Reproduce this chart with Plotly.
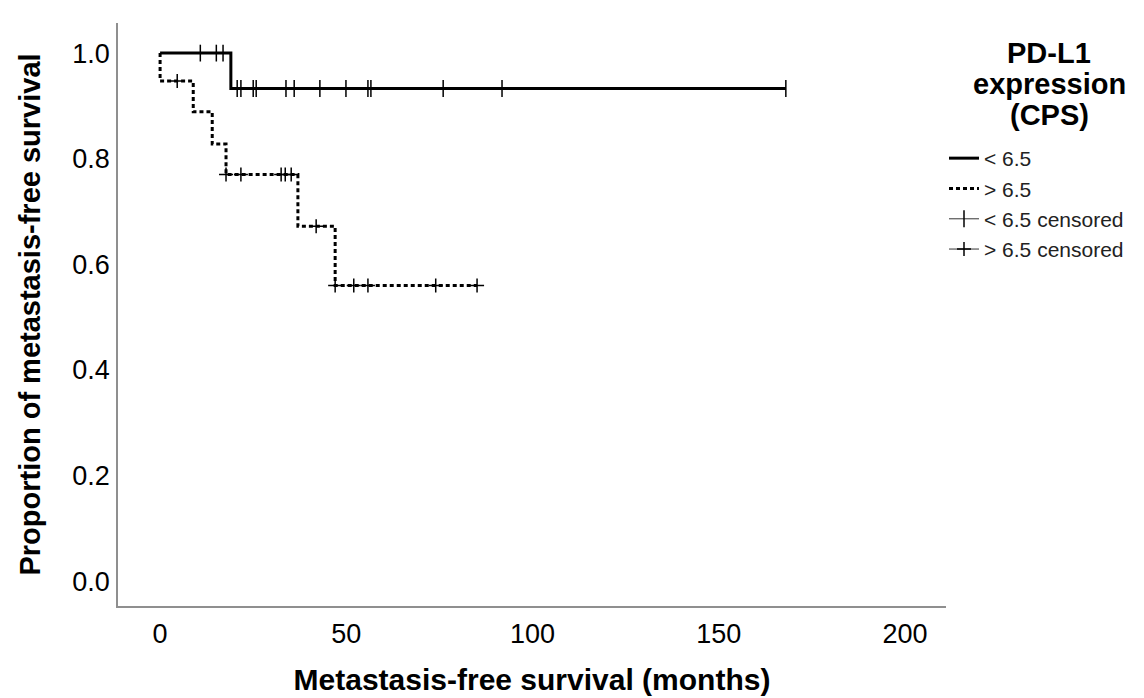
import plotly.graph_objects as go

# ---- data (months, proportion) ----
# PD-L1 CPS < 6.5
low_step_t = [0.0, 19.0, 168.0]
low_step_s = [1.0, 0.933, 0.933]
low_cens_t = [10.8, 15.1, 16.9, 20.7, 21.7, 25.0, 25.8, 33.8, 36.0, 42.9,
              49.9, 55.8, 56.6, 76.0, 91.8, 168.0]
low_cens_s = [1.0, 1.0, 1.0, 0.933, 0.933, 0.933, 0.933, 0.933, 0.933, 0.933,
              0.933, 0.933, 0.933, 0.933, 0.933, 0.933]

# PD-L1 CPS > 6.5
high_step_t = [0.0, 0.0, 8.9, 14.0, 17.7, 37.0, 47.0, 85.1]
high_step_s = [1.0, 0.947, 0.889, 0.828, 0.770, 0.672, 0.560, 0.560]
high_cens_t = [4.6, 17.7, 21.7, 32.5, 33.6, 35.2, 41.9, 47.0, 52.0, 55.8, 74.0, 85.1]
high_cens_s = [0.947, 0.770, 0.770, 0.770, 0.770, 0.770, 0.672, 0.560, 0.560,
               0.560, 0.560, 0.560]

x_ticks = [0, 50, 100, 150, 200]
y_ticks = [0.0, 0.2, 0.4, 0.6, 0.8, 1.0]
y_tick_labels = ["0.0", "0.2", "0.4", "0.6", "0.8", "1.0"]

legend_title_lines = ["PD-L1", "expression", "(CPS)"]
names = ["< 6.5", "> 6.5", "< 6.5 censored", "> 6.5 censored"]

FONT = "Liberation Sans, Arial, sans-serif"


def separated(vals):
    """Put a gap between points so each censor mark stands alone."""
    out = []
    for v in vals:
        out += [v, None]
    return out


fig = go.Figure()
fig.add_trace(go.Scatter(
    x=low_step_t, y=low_step_s, mode="lines", line_shape="hv",
    line=dict(color="black", width=3), name=names[0]))
fig.add_trace(go.Scatter(
    x=high_step_t, y=high_step_s, mode="lines", line_shape="hv",
    line=dict(color="black", width=3, dash="4px,3px"), name=names[1]))
fig.add_trace(go.Scatter(
    x=separated(low_cens_t), y=separated(low_cens_s), mode="lines+markers",
    connectgaps=False,
    line=dict(color="#555555", width=1.2),
    marker=dict(symbol="line-ns", size=12, line=dict(color="black", width=1.5)),
    name=names[2]))
fig.add_trace(go.Scatter(
    x=separated(high_cens_t), y=separated(high_cens_s), mode="lines+markers",
    connectgaps=False,
    line=dict(color="#555555", width=1.2),
    marker=dict(symbol="cross-thin", size=10, line=dict(color="black", width=1.5)),
    name=names[3]))

plot_l, plot_r, plot_t, plot_b = 110, 938, 15, 598
W, H = 1144, 698


def px_to_paper_x(px):
    return (px - plot_l) / (plot_r - plot_l)


def px_to_paper_y(py):
    return 1 - (py - plot_t) / (plot_b - plot_t)


annotations = []
for line, cy in zip(legend_title_lines, [45, 76, 107]):
    annotations.append(dict(
        text=line, xref="paper", yref="paper",
        x=px_to_paper_x(1041), y=px_to_paper_y(cy),
        xanchor="center", yanchor="middle", showarrow=False,
        font=dict(family=FONT, size=29, color="black", weight="bold")))

fig.update_layout(
    width=W, height=H,
    margin=dict(l=plot_l, r=W - plot_r, t=plot_t, b=H - plot_b, autoexpand=False),
    paper_bgcolor="white", plot_bgcolor="white",
    font=dict(family=FONT, color="black"),
    showlegend=True,
    legend=dict(
        x=px_to_paper_x(936), y=px_to_paper_y(130), xanchor="left", yanchor="top",
        font=dict(family=FONT, size=21, color="#222222"),
        bgcolor="rgba(0,0,0,0)", tracegroupgap=0, itemwidth=30),
    annotations=annotations,
)
fig.update_xaxes(
    range=[-11.3, 211], tickvals=x_ticks, showgrid=False, zeroline=False,
    showline=True, linecolor="#8f8f8f", linewidth=1.5,
    ticks="outside", ticklen=0, tickcolor="rgba(0,0,0,0)", ticklabelstandoff=3,
    tickfont=dict(family=FONT, size=27, color="black"),
    title=dict(text="Metastasis-free survival (months)", standoff=21,
               font=dict(family=FONT, size=30, color="black", weight="bold")),
    automargin=False)
fig.update_yaxes(
    range=[-0.047, 1.057], tickvals=y_ticks, ticktext=y_tick_labels,
    showgrid=False, zeroline=False,
    showline=True, linecolor="#8f8f8f", linewidth=1.5,
    ticks="outside", ticklen=0, tickcolor="rgba(0,0,0,0)", ticklabelstandoff=1,
    tickfont=dict(family=FONT, size=27, color="black"),
    title=dict(text="Proportion of metastasis-free survival", standoff=23,
               font=dict(family=FONT, size=29, color="black", weight="bold")),
    automargin=False)

fig.write_html("out.html")
